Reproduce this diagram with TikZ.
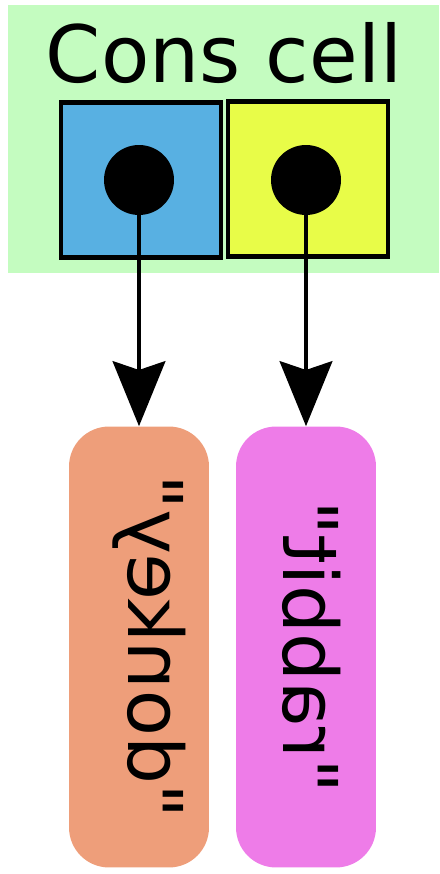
\documentclass[tikz,border=0pt]{standalone}
\usepackage{fontspec}
\setmainfont{DejaVu Sans}
% no TeX ligatures here, so " stays a straight quote
\newfontfamily\wordfont{DejaVu Sans}
\usepackage{graphicx}
\usetikzlibrary{arrows.meta}

\definecolor{cellbg}{RGB}{196,252,192}
\definecolor{carblue}{RGB}{88,176,226}
\definecolor{cdryellow}{RGB}{232,252,72}
\definecolor{donkeyorange}{RGB}{238,158,122}
\definecolor{rabbitpink}{RGB}{238,124,232}

% quoted word, mirrored and turned
\newcommand{\turnedword}[1]{\rotatebox{-90}{\reflectbox{"#1"}}}

\begin{document}
\begin{tikzpicture}[x=0.02cm,y=-0.02cm,
  half/.style={draw=black,line width=2.4pt,minimum width=3.2cm,minimum height=3.1cm,inner sep=0pt},
  dot/.style={circle,fill=black,minimum size=1.4cm,inner sep=0pt},
  pill/.style={rounded corners=0.8cm,minimum width=2.8cm,minimum height=8.82cm,inner sep=0pt},
  pilltext/.style={inner sep=0pt,font=\wordfont\fontsize{43}{43}\selectfont},
  ptr/.style={line width=2.2pt,-{Stealth[length=37pt,width=30pt,inset=5pt]}}]
\useasboundingbox (0,0) rectangle (439,874);

% the cell and its two halves
\fill[cellbg] (8,5) rectangle (439,273);
\node[font=\fontsize{45}{45}\selectfont,anchor=base] (title) at (224,83) {Cons cell};
\node[half,fill=carblue] (car) at (141,180) {};
\node[half,fill=cdryellow] (cdr) at (308,179) {};
\node[dot] (cardot) at (139,180) {};
\node[dot] (cdrdot) at (306,180) {};

% what the halves point to
\node[pill,fill=donkeyorange] (donkey) at (139,647) {};
\node[pill,fill=rabbitpink] (rabbit) at (306,647) {};
\node[pilltext] (donkeytext) at ([xshift=6pt]donkey.center) {\turnedword{donkey}};
\node[pilltext] (rabbittext) at ([xshift=3pt]rabbit.center) {\turnedword{rabbit}};

\draw[ptr] (cardot.center) -- (donkey.north);
\draw[ptr] (cdrdot.center) -- (rabbit.north);
\end{tikzpicture}
\end{document}
